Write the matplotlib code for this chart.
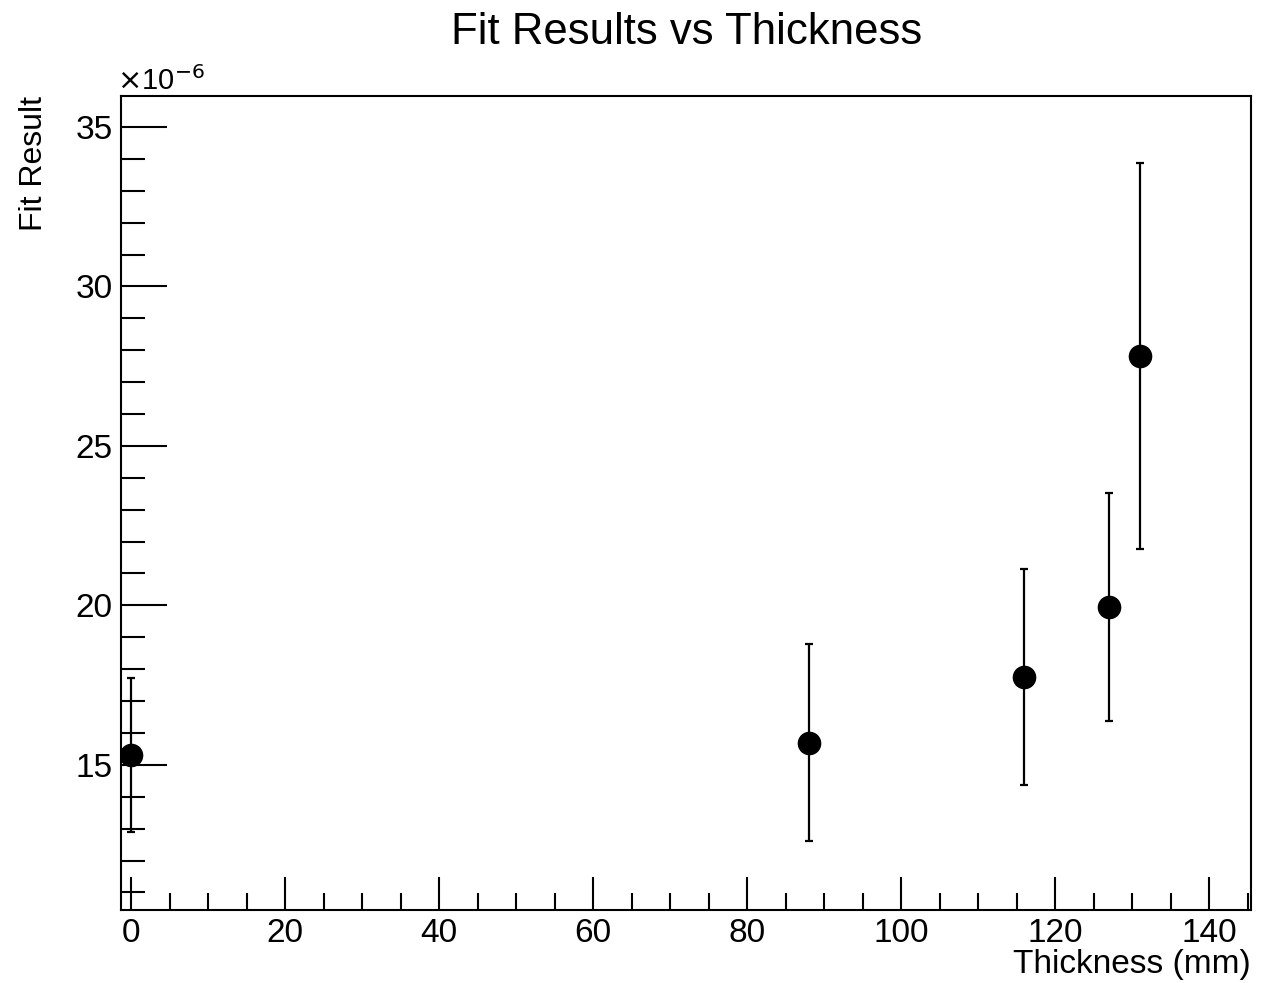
import numpy as np
import matplotlib
matplotlib.use("Agg")
import matplotlib.pyplot as plt
from matplotlib.ticker import MultipleLocator

plt.rcParams['font.family'] = ['Liberation Sans', 'DejaVu Sans']

# values in units of 1e-6
thickness = [0, 88, 116, 127, 131]
fit_result = [15.3, 15.7, 17.76, 19.95, 27.82]
fit_error = [2.42, 3.08, 3.38, 3.57, 6.05]

fig = plt.figure(figsize=(12.78, 9.83), dpi=100)
ax = fig.add_axes([0.0947, 0.0743, 0.8842, 0.828])

ax.errorbar(thickness, fit_result, yerr=fit_error, fmt='o', color='black',
            markersize=16, elinewidth=1.6, capsize=3, capthick=1.6)

ax.set_xlim(-1.3, 145.45)
ax.set_ylim(10.45, 35.97)

ax.xaxis.set_major_locator(MultipleLocator(20))
ax.xaxis.set_minor_locator(MultipleLocator(5))
ax.yaxis.set_major_locator(MultipleLocator(5))
ax.yaxis.set_minor_locator(MultipleLocator(1))

ax.tick_params(axis='both', which='both', direction='in', top=False, right=False,
               width=1.5, labelsize=24, colors='black')
ax.tick_params(axis='x', which='major', length=24, pad=6)
ax.tick_params(axis='x', which='minor', length=12)
ax.tick_params(axis='y', which='major', length=33, pad=6)
ax.tick_params(axis='y', which='minor', length=17)
for s in ax.spines.values():
    s.set_linewidth(1.5)

fig.text(0.537, 0.967, 'Fit Results vs Thickness', fontsize=31.5, ha='center', va='center')
ax.set_xlabel('Thickness (mm)', fontsize=24, loc='right', labelpad=0)
ax.set_ylabel('Fit Result', fontsize=23, loc='top')
ax.yaxis.set_label_coords(-0.064, 1.0)
ax.text(-0.004, 1.0, r'$\times$10$^{-6}$', transform=ax.transAxes, fontsize=21,
        ha='left', va='bottom')

fig.savefig('out.png', dpi=100)
